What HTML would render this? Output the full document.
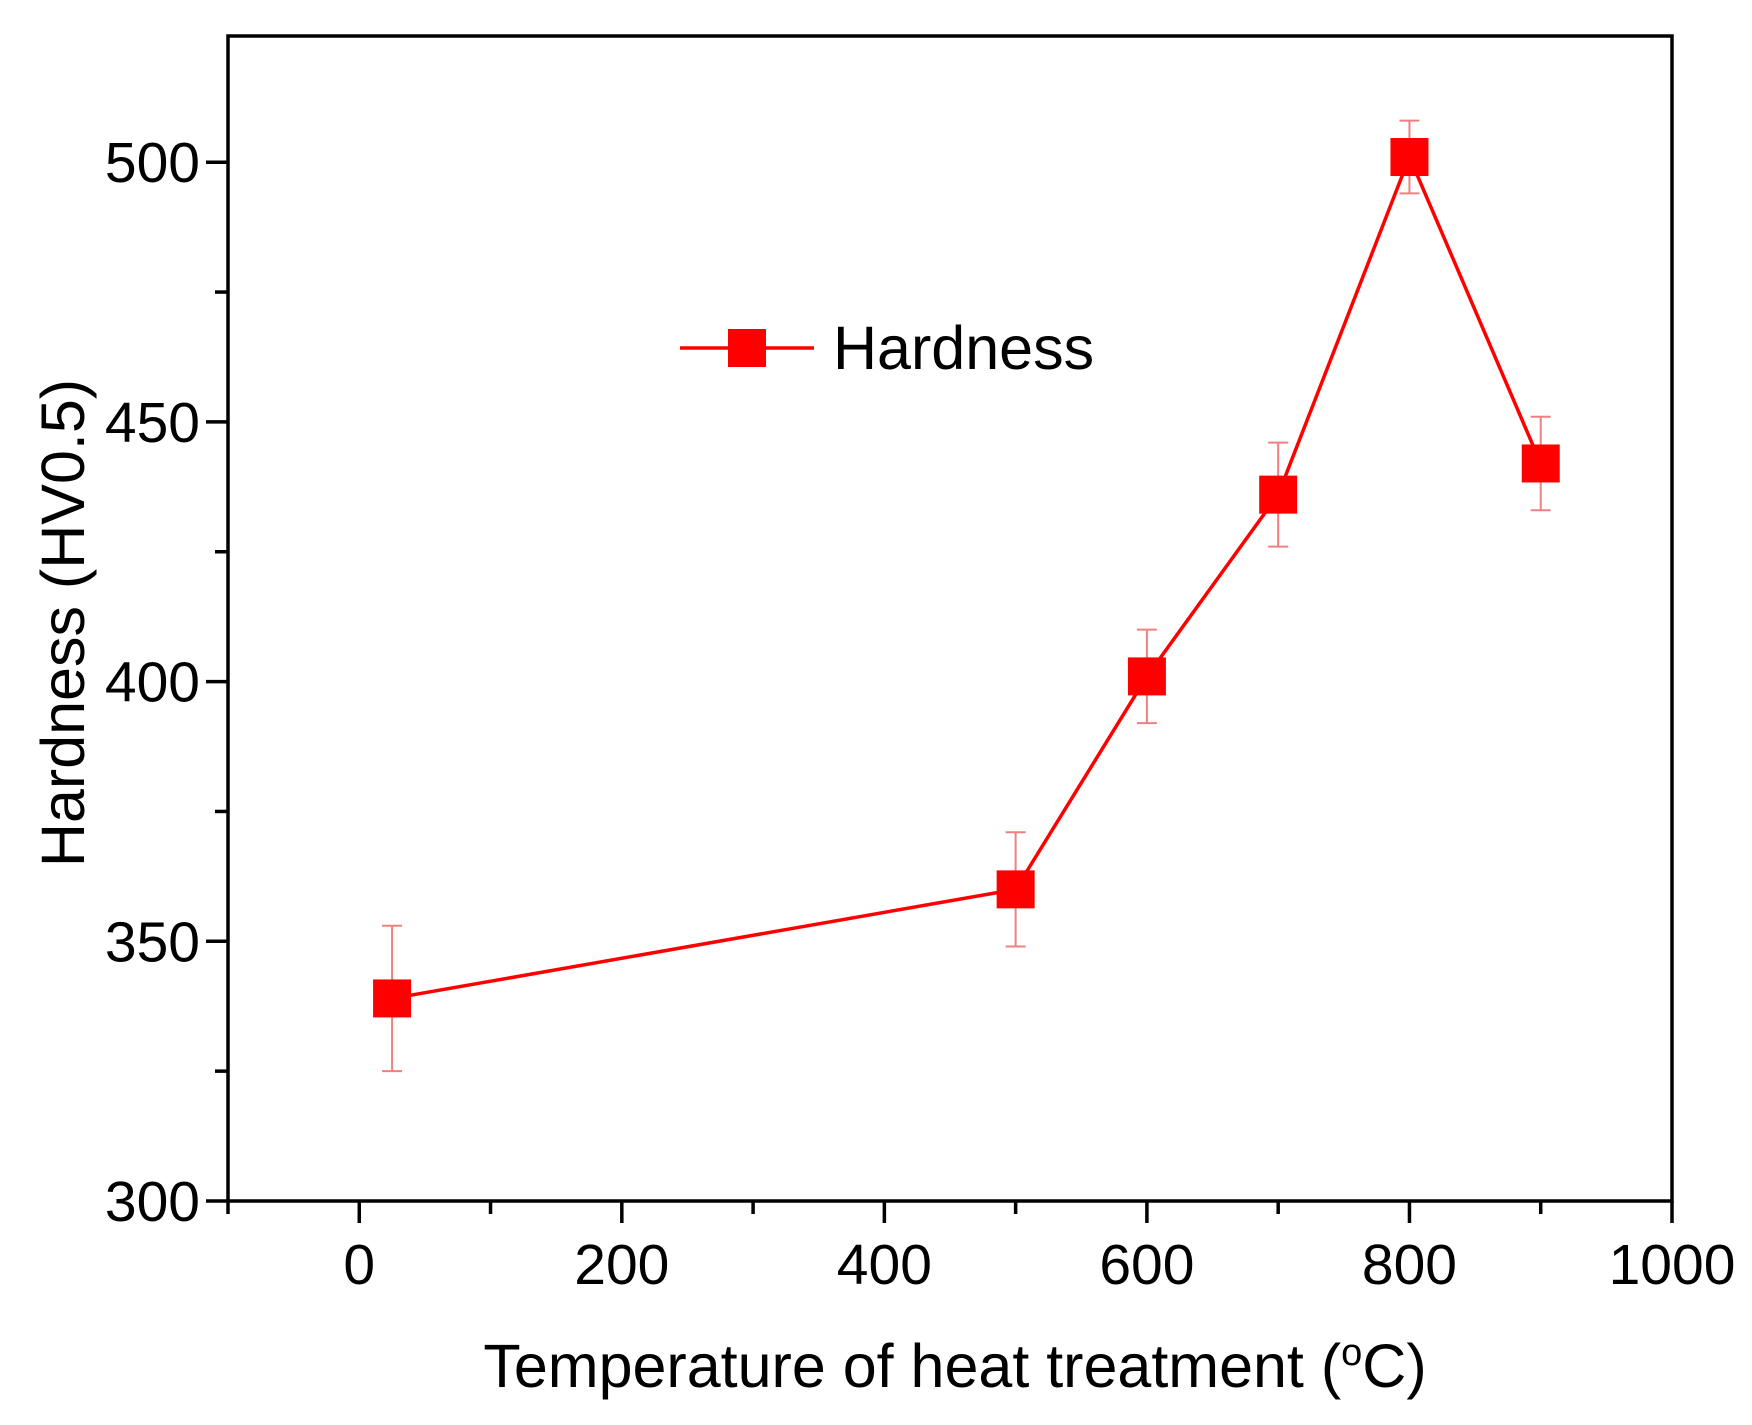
<!DOCTYPE html>
<html><head><meta charset="utf-8"><style>
html,body{margin:0;padding:0;background:#fff;}
svg{display:block;font-family:"Liberation Sans",Arial,sans-serif;}
</style></head><body>
<svg id="chart" width="1752" height="1425" viewBox="0 0 1752 1425"></svg>
<script>
const temps = [25, 500, 600, 700, 800, 900];
const hardness = [339, 360, 401, 436, 501, 442];
const errors = [14, 11, 9, 10, 7, 9];
const xTickLabels = ["0", "200", "400", "600", "800", "1000"];
const yTickLabels = ["300", "350", "400", "450", "500"];

const L = 228, R = 1672, T = 36, B = 1201;
const xMin = -100, xMax = 1000, yMin = 300, yMax = 524.3;
const X = v => L + (v - xMin) / (xMax - xMin) * (R - L);
const Y = v => B - (v - yMin) / (yMax - yMin) * (B - T);
const svg = document.getElementById('chart');
const NS = 'http://www.w3.org/2000/svg';
function mk(tag, attrs, parent) {
  const e = document.createElementNS(NS, tag);
  for (const k in attrs) e.setAttribute(k, attrs[k]);
  (parent || svg).appendChild(e);
  return e;
}
const red = '#ff0000';

let e = mk('rect', {x: L, y: T, width: R - L, height: B - T, fill: 'none', stroke: '#000', 'stroke-width': 3.5});



for (let v = 300; v <= 500; v += 25) {
  const major = v % 50 === 0;
  e = mk('line', {x1: L - (major ? 22 : 13), x2: L, y1: Y(v), y2: Y(v), stroke: '#000', 'stroke-width': 3.5});
  
  
}
yTickLabels.forEach(s => {
  e = mk('text', {x: L - 28, y: Y(+s) + 20, 'text-anchor': 'end', 'font-size': 57});
  e.textContent = s;
  
  
});
for (let v = -100; v <= 1000; v += 100) {
  const major = v % 200 === 0;
  e = mk('line', {x1: X(v), x2: X(v), y1: B, y2: B + (major ? 22 : 13), stroke: '#000', 'stroke-width': 3.5});
  
  
}
xTickLabels.forEach(s => {
  e = mk('text', {x: X(+s), y: 1284, 'text-anchor': 'middle', 'font-size': 57});
  e.textContent = s;
  
  
});

e = mk('text', {x: 955, y: 1387, 'text-anchor': 'middle', 'font-size': 61});
e.innerHTML = 'Temperature of heat treatment (<tspan dy="-22" font-size="38">o</tspan><tspan dy="22">C)</tspan>';


e = mk('text', {x: 0, y: 0, 'text-anchor': 'middle', 'font-size': 61, transform: 'translate(84,623) rotate(-90)'});
e.textContent = 'Hardness (HV0.5)';



e = mk('polyline', {points: temps.map((t, i) => X(t) + ',' + Y(hardness[i])).join(' '), fill: 'none', stroke: red, 'stroke-width': 3.5});



temps.forEach((t, i) => {
  const x = X(t), yt = Y(hardness[i] + errors[i]), yb = Y(hardness[i] - errors[i]);
  const g = mk('g', {stroke: '#f08080', 'stroke-width': 2});
  
  
  mk('line', {x1: x, x2: x, y1: yt, y2: yb}, g);
  mk('line', {x1: x - 10, x2: x + 10, y1: yt, y2: yt}, g);
  mk('line', {x1: x - 10, x2: x + 10, y1: yb, y2: yb}, g);
  const m = mk('rect', {x: x - 19, y: Y(hardness[i]) - 19, width: 38, height: 38, fill: red});
  
  
});

const lg = mk('g', {});


mk('line', {x1: 680, x2: 814, y1: 348, y2: 348, stroke: red, 'stroke-width': 3.5}, lg);
mk('rect', {x: 728, y: 329, width: 38, height: 38, fill: red}, lg);
e = mk('text', {x: 833, y: 369, 'font-size': 61}, lg);
e.textContent = 'Hardness';
</script>
</body></html>
